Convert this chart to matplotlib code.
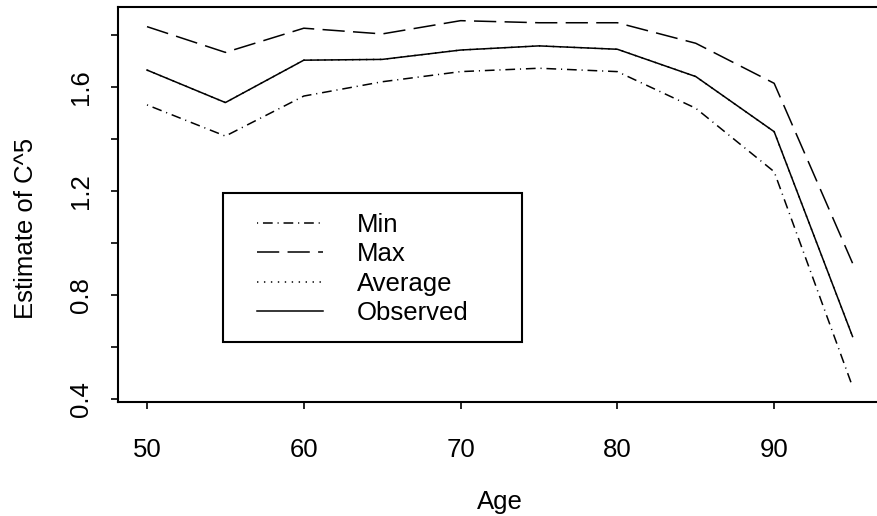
import matplotlib
matplotlib.use('Agg')
import matplotlib.pyplot as plt
from matplotlib.patches import Rectangle

age = [50, 55, 60, 65, 70, 75, 80, 85, 90, 95]
c5_min = [1.533, 1.413, 1.567, 1.622, 1.661, 1.674, 1.661, 1.520, 1.276, 0.449]
c5_max = [1.834, 1.735, 1.828, 1.806, 1.857, 1.849, 1.849, 1.770, 1.616, 0.924]
c5_avg = [1.667, 1.542, 1.705, 1.708, 1.744, 1.760, 1.747, 1.642, 1.430, 0.642]
c5_obs = [1.667, 1.542, 1.705, 1.708, 1.744, 1.760, 1.747, 1.642, 1.430, 0.642]

xticks = [50, 60, 70, 80, 90]
yticks = [0.4, 0.6, 0.8, 1.0, 1.2, 1.4, 1.6, 1.8]
ylabels = ['0.4', '', '0.8', '', '1.2', '', '1.6', '']

plt.rcParams['font.family'] = ['Liberation Sans', 'DejaVu Sans']
plt.rcParams['lines.scale_dashes'] = False
fs = 18.5

fig = plt.figure(figsize=(8.77, 5.16), dpi=100)
ax = fig.add_axes([118/877, 1-401.5/516, 762/877, 395/516])

lw = 1.1
ax.plot(age, c5_min, color='black', lw=lw, dashes=(0.8, 3.5, 7, 3.5), label='Min')
ax.plot(age, c5_max, color='black', lw=lw, dashes=(16, 6), label='Max')
ax.plot(age, c5_avg, color='black', lw=lw, dashes=(1, 4), label='Average')
ax.plot(age, c5_obs, color='black', lw=lw, label='Observed')

ax.set_xlim(48.15, 96.75)
ax.set_ylim(0.392, 1.9115)
ax.set_xticks(xticks)
ax.set_yticks(yticks)
ax.set_yticklabels(ylabels)
ax.spines['right'].set_visible(False)
for s in ['left', 'top', 'bottom']:
    ax.spines[s].set_linewidth(1.5)
ax.tick_params(axis='x', length=5, width=1.2, pad=21, labelsize=fs)
ax.tick_params(axis='y', length=5, width=1.2, pad=13, labelsize=fs, labelrotation=90)
for t in ax.get_yticklabels():
    t.set_va('center')

# legend box drawn by hand so its size matches
ax.add_patch(Rectangle((0.1378, 0.1506), 0.392, 0.3774, transform=ax.transAxes,
                       fill=False, edgecolor='black', lw=1.5, zorder=5))
leg = ax.legend(loc='upper left', bbox_to_anchor=(0.1824, 0.4765), borderaxespad=0,
                fontsize=fs, frameon=False, handlelength=2.57, handletextpad=1.32,
                labelspacing=0.2, borderpad=0)

fig.text(500/877, 1-502/516, 'Age', ha='center', va='center', fontsize=fs)
fig.text(26/877, 1-228/516, 'Estimate of C^5', ha='center', va='center',
         rotation=90, fontsize=fs)

fig.savefig('out.png', dpi=100)
